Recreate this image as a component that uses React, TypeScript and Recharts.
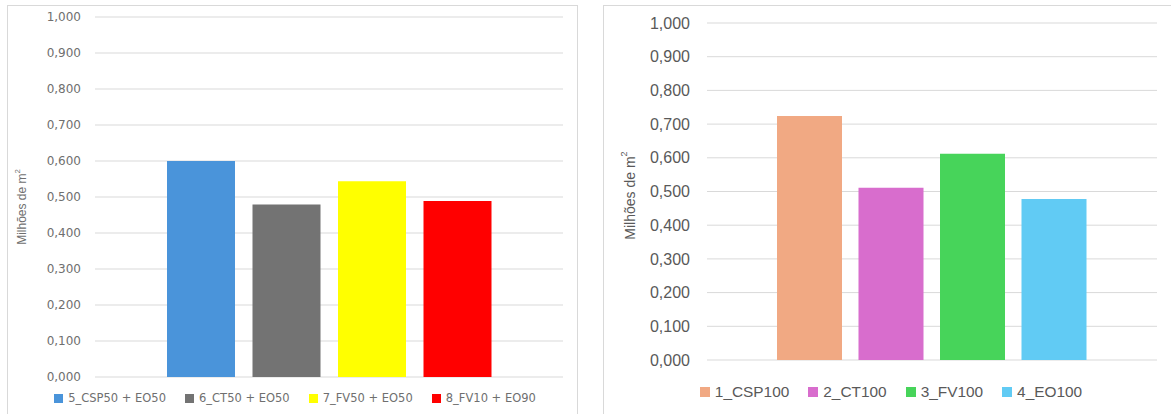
import { BarChart, Bar, XAxis, YAxis, CartesianGrid, Legend } from 'recharts';

// Mixed scenarios (left panel)
const mixSeries = ['5_CSP50 + EO50', '6_CT50 + EO50', '7_FV50 + EO50', '8_FV10 + EO90'];
const mixValues = [0.6, 0.479, 0.544, 0.489];
const mixColors = ['#4a94da', '#737373', '#ffff00', '#ff0000'];

// Single-technology scenarios (right panel)
const pureSeries = ['1_CSP100', '2_CT100', '3_FV100', '4_EO100'];
const pureValues = [0.724, 0.511, 0.612, 0.478];
const pureColors = ['#f1a983', '#d86dcd', '#47d45a', '#61cbf4'];

const yTicks = [0, 0.1, 0.2, 0.3, 0.4, 0.5, 0.6, 0.7, 0.8, 0.9, 1];

const fmt = (v: number) => v.toFixed(3).replace('.', ',');

const toRow = (values: number[]) =>
  values.reduce<Record<string, number | string>>((row, v, i) => ({ ...row, [`s${i}`]: v }), { name: 'total' });

type PanelProps = {
  series: string[];
  values: number[];
  colors: string[];
  left: number;
  width: number;
  margin: { top: number; right: number; bottom: number; left: number };
  axisWidth: number;
  tickMargin: number;
  font: string;
  tickSize: number;
  textColor: string;
  barSize: number;
  barGap: number;
  titleX: number;
  titleShift: number;
  titleSize: number;
  legendTop: number;
  legendWidth: number;
  legendSize: number;
  swatch: number;
};

const Panel = (p: PanelProps) => {
  // eslint-disable-next-line @typescript-eslint/no-explicit-any
  const AxisTitle = ({ viewBox }: any) => {
    const cx = viewBox.x + p.titleX;
    const cy = viewBox.y + viewBox.height / 2 + p.titleShift;
    return (
      <text
        x={cx}
        y={cy}
        transform={`rotate(-90 ${cx} ${cy})`}
        textAnchor="middle"
        dominantBaseline="central"
        fontFamily="'Liberation Sans', Arial, sans-serif"
        fontSize={p.titleSize}
        fill={p.textColor}
      >
        Milhões de m
        <tspan dy={-p.titleSize * 0.4} fontSize={p.titleSize * 0.65}>2</tspan>
      </text>
    );
  };

  // eslint-disable-next-line @typescript-eslint/no-explicit-any
  const LegendContent = ({ payload }: any) => (
    <div
      style={{
        display: 'flex',
        justifyContent: 'center',
        alignItems: 'center',
        fontFamily: p.font,
        fontSize: p.legendSize,
        lineHeight: '18px',
        color: p.textColor,
        whiteSpace: 'nowrap',
      }}
    >
      {(payload ?? []).map((item: { value: string; color: string }, i: number) => (
        <span key={item.value} style={{ display: 'flex', alignItems: 'center', marginLeft: i ? 19 : 0 }}>
          <span style={{ width: p.swatch, height: p.swatch, background: item.color, marginRight: 5 }} />
          {item.value}
        </span>
      ))}
    </div>
  );

  return (
    <div style={{ position: 'absolute', left: p.left, top: 0 }}>
      <BarChart
        width={p.width}
        height={414}
        data={[toRow(p.values)]}
        margin={p.margin}
        barSize={p.barSize}
        barGap={p.barGap}
      >
        <CartesianGrid vertical={false} stroke="#d9d9d9" />
        <XAxis dataKey="name" hide />
        <YAxis
          domain={[0, 1]}
          ticks={yTicks}
          interval={0}
          tickFormatter={fmt}
          axisLine={false}
          tickLine={false}
          tickSize={0}
          tickMargin={p.tickMargin}
          width={p.axisWidth}
          tick={{ fontSize: p.tickSize, fill: p.textColor, fontFamily: p.font }}
          label={(props: unknown) => <AxisTitle {...(props as object)} />}
        />
        <Legend
          layout="horizontal"
          verticalAlign="middle"
          align="center"
          content={<LegendContent />}
          wrapperStyle={{ top: p.legendTop, left: 0, width: p.legendWidth }}
        />
        {p.series.map((s, i) => (
          <Bar key={s} dataKey={`s${i}`} name={s} fill={p.colors[i]} isAnimationActive={false} />
        ))}
      </BarChart>
    </div>
  );
};

export default function App() {
  return (
    <div
      style={{
        position: 'absolute',
        left: 0,
        top: 0,
        width: 1171,
        height: 414,
        overflow: 'hidden',
        background: '#fff',
      }}
    >
      <div
        style={{
          position: 'absolute', left: 7, top: 5, width: 571, height: 430,
          boxSizing: 'border-box', border: '1px solid #d9d9d9',
        }}
      />
      <div
        style={{
          position: 'absolute', left: 603, top: 5, width: 600, height: 430,
          boxSizing: 'border-box', border: '1px solid #d9d9d9',
        }}
      />
      <Panel
        series={mixSeries}
        values={mixValues}
        colors={mixColors}
        left={0}
        width={578}
        margin={{ top: 17, right: 15, bottom: 37, left: 0 }}
        axisWidth={95}
        tickMargin={14}
        font="'DejaVu Sans', Verdana, sans-serif"
        tickSize={12}
        textColor="#6f6f6f"
        barSize={68}
        barGap={17.5}
        titleX={22}
        titleShift={10}
        titleSize={12}
        legendTop={389}
        legendWidth={590}
        legendSize={11.5}
        swatch={9}
      />
      <Panel
        series={pureSeries}
        values={pureValues}
        colors={pureColors}
        left={603}
        width={568}
        margin={{ top: 23, right: 14, bottom: 54, left: 0 }}
        axisWidth={104}
        tickMargin={17}
        font="'Liberation Sans', Arial, sans-serif"
        tickSize={16}
        textColor="#595959"
        barSize={65}
        barGap={16.5}
        titleX={27}
        titleShift={4}
        titleSize={14}
        legendTop={383}
        legendWidth={576}
        legendSize={15.4}
        swatch={10}
      />
    </div>
  );
}
